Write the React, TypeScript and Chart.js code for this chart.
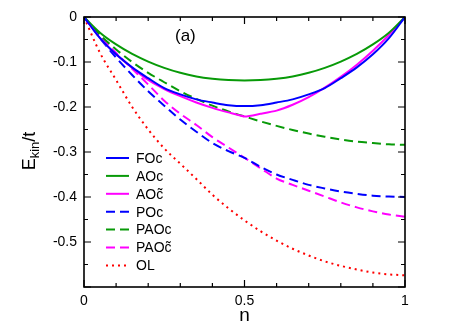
import React, { useEffect, useRef } from 'react';
import { Chart, registerables } from 'chart.js';
Chart.register(...registerables);

const nValues = [0, 0.05, 0.1, 0.15, 0.2, 0.25, 0.3, 0.35, 0.4, 0.45, 0.5, 0.55, 0.6, 0.65, 0.7, 0.75, 0.8, 0.85, 0.9, 0.95, 1];

const FOc = [0, -0.047, -0.083, -0.112, -0.136, -0.158, -0.172, -0.183, -0.19, -0.196, -0.198, -0.196, -0.19, -0.183, -0.172, -0.158, -0.136, -0.112, -0.083, -0.047, 0];
const AOc = [0, -0.035, -0.061, -0.082, -0.099, -0.113, -0.124, -0.132, -0.137, -0.14, -0.141, -0.14, -0.137, -0.132, -0.124, -0.113, -0.099, -0.082, -0.061, -0.035, 0];
const AOct = [0, -0.047, -0.083, -0.113, -0.14, -0.16, -0.176, -0.19, -0.202, -0.212, -0.221, -0.215, -0.208, -0.195, -0.178, -0.157, -0.133, -0.106, -0.075, -0.04, 0];
const POc = [0, -0.047, -0.09, -0.129, -0.165, -0.197, -0.228, -0.255, -0.28, -0.298, -0.313, -0.333, -0.35, -0.362, -0.373, -0.381, -0.388, -0.393, -0.397, -0.399, -0.4];
const PAOc = [0, -0.04, -0.072, -0.1, -0.124, -0.145, -0.165, -0.182, -0.197, -0.21, -0.221, -0.232, -0.242, -0.251, -0.259, -0.266, -0.272, -0.277, -0.28, -0.283, -0.284];
const PAOct = [0, -0.042, -0.08, -0.115, -0.15, -0.186, -0.215, -0.24, -0.267, -0.29, -0.313, -0.336, -0.359, -0.373, -0.386, -0.399, -0.412, -0.423, -0.432, -0.439, -0.444];
const OL = [0, -0.08, -0.14, -0.2, -0.25, -0.292, -0.326, -0.36, -0.395, -0.425, -0.452, -0.476, -0.497, -0.515, -0.53, -0.543, -0.553, -0.561, -0.568, -0.572, -0.574];

const seriesLabels = ['FOc', 'AOc', 'AOc\u0303', 'POc', 'PAOc', 'PAOc\u0303', 'OL'];
const seriesData = [FOc, AOc, AOct, POc, PAOc, PAOct, OL];
const seriesColors = ['#0000ff', '#089a08', '#ff00ff', '#0000ff', '#089a08', '#ff00ff', '#ff0000'];
const seriesDash = [[], [], [], [9, 5], [9, 5], [9, 5], [2, 4]];

const xLabelTicks = [0, 0.5, 1];
const yLabelTicks = [0, -0.1, -0.2, -0.3, -0.4, -0.5];

const FONT = '"Liberation Sans", Arial, Helvetica, sans-serif';

const decorPlugin = {
  id: 'decor',
  afterDraw(chart: any) {
    const ctx = chart.ctx;
    const { left, right, top, bottom } = chart.chartArea;
    const xs = chart.scales.x;
    const ys = chart.scales.y;
    ctx.save();
    ctx.strokeStyle = '#000';
    ctx.lineWidth = 1.6;
    ctx.strokeRect(left, top, right - left, bottom - top);
    ctx.lineWidth = 1.2;
    ctx.beginPath();
    for (let i = 0; i <= 10; i++) {
      const v = i / 10;
      const px = xs.getPixelForValue(v);
      const len = i % 5 === 0 ? 7 : 4;
      ctx.moveTo(px, bottom); ctx.lineTo(px, bottom - len);
      ctx.moveTo(px, top); ctx.lineTo(px, top + len);
    }
    for (let i = 0; i <= 12; i++) {
      const v = -i * 0.05;
      const py = ys.getPixelForValue(v);
      const len = i % 2 === 0 ? 7 : 4;
      ctx.moveTo(left, py); ctx.lineTo(left + len, py);
      ctx.moveTo(right, py); ctx.lineTo(right - len, py);
    }
    ctx.stroke();

    // (a)
    ctx.fillStyle = '#000';
    ctx.font = `17px ${FONT}`;
    ctx.textAlign = 'left';
    ctx.textBaseline = 'middle';
    ctx.fillText('(a)', 175, 36);

    // x title
    ctx.font = `19px ${FONT}`;
    ctx.textAlign = 'center';
    ctx.fillText('n', (left + right) / 2, 316);

    // y title with subscript
    ctx.save();
    ctx.translate(29, 151);
    ctx.rotate(-Math.PI / 2);
    ctx.textBaseline = 'alphabetic';
    ctx.textAlign = 'left';
    const big = `18px ${FONT}`;
    const small = `13px ${FONT}`;
    ctx.font = big;
    const wE = ctx.measureText('E').width;
    ctx.font = small;
    const wK = ctx.measureText('kin').width;
    ctx.font = big;
    const wT = ctx.measureText('/t').width;
    const total = wE + wK + wT;
    let x0 = -total / 2;
    ctx.font = big;
    ctx.fillText('E', x0, 6);
    x0 += wE;
    ctx.font = small;
    ctx.fillText('kin', x0, 10);
    x0 += wK;
    ctx.font = big;
    ctx.fillText('/t', x0, 6);
    ctx.restore();

    // legend
    ctx.font = `14px ${FONT}`;
    ctx.textAlign = 'left';
    ctx.textBaseline = 'middle';
    for (let i = 0; i < seriesLabels.length; i++) {
      const y = 158 + i * 17.9;
      ctx.strokeStyle = seriesColors[i];
      ctx.lineWidth = 2;
      ctx.setLineDash(seriesDash[i]);
      ctx.beginPath();
      ctx.moveTo(106, y);
      ctx.lineTo(129, y);
      ctx.stroke();
      ctx.setLineDash([]);
      ctx.fillStyle = '#000';
      ctx.fillText(seriesLabels[i], 136, y + 1);
    }
    ctx.restore();
  },
};

export default function App() {
  const ref = useRef<HTMLCanvasElement | null>(null);
  useEffect(() => {
    if (!ref.current) return;
    const datasets = seriesLabels.map((label, i) => ({
      label,
      data: nValues.map((n, j) => ({ x: n, y: seriesData[i][j] })),
      borderColor: seriesColors[i],
      backgroundColor: seriesColors[i],
      borderWidth: 2,
      borderDash: seriesDash[i],
      pointRadius: 0,
      fill: false,
      cubicInterpolationMode: i === 2 ? 'default' : 'monotone',
      tension: i === 2 ? 0.2 : 0,
    }));
    const chart = new Chart(ref.current, {
      type: 'line',
      data: { datasets: datasets as any },
      options: {
        animation: false,
        responsive: false,
        maintainAspectRatio: false,
        layout: { padding: { left: 0, right: 60, top: 17, bottom: 0 } },
        plugins: { legend: { display: false }, tooltip: { enabled: false } },
        scales: {
          x: {
            type: 'linear',
            min: 0,
            max: 1,
            grid: { display: false, drawTicks: false },
            border: { display: false },
            afterBuildTicks: (s: any) => { s.ticks = xLabelTicks.map((v) => ({ value: v })); },
            afterFit: (s: any) => { s.height = 42; },
            ticks: {
              padding: 6,
              color: '#000',
              font: { family: FONT, size: 14 },
              maxRotation: 0,
              callback: (v: any) => String(v),
            },
          },
          y: {
            type: 'linear',
            min: -0.6,
            max: 0,
            grid: { display: false, drawTicks: false },
            border: { display: false },
            afterBuildTicks: (s: any) => { s.ticks = yLabelTicks.map((v) => ({ value: v })); },
            afterFit: (s: any) => { s.width = 84; },
            ticks: {
              padding: 7,
              color: '#000',
              font: { family: FONT, size: 14 },
              callback: (v: any) => (Math.abs(v) < 1e-9 ? '0' : Number(v).toFixed(1)),
            },
          },
        },
      },
      plugins: [decorPlugin],
    });
    return () => chart.destroy();
  }, []);
  return (
    <div style={{ position: 'fixed', left: 0, top: 0, width: 465, height: 329, background: '#fff' }}>
      <canvas ref={ref} width={465} height={329} style={{ width: 465, height: 329, display: 'block' }} />
    </div>
  );
}
